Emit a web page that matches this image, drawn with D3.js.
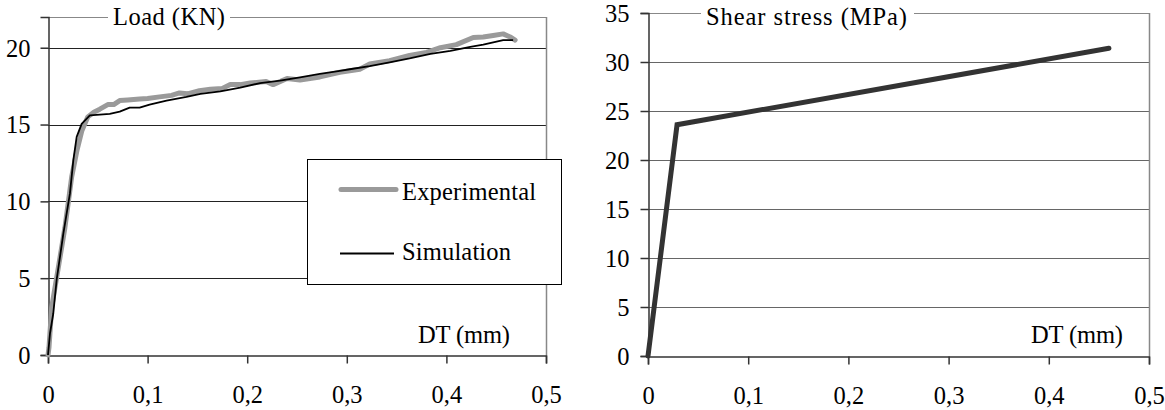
<!DOCTYPE html>
<html><head><meta charset="utf-8">
<script src="https://cdn.jsdelivr.net/npm/d3@7"></script>
<style>
html,body{margin:0;padding:0;background:#fff;}
svg{display:block;}
svg text{font-family:"Liberation Serif","Times New Roman",Times,"DejaVu Serif",serif !important;fill:#000;}
</style></head>
<body>
<svg id="c" width="1165" height="410"></svg>
<script>
// ---- data ----
const expX = [0,0.001,0.0037,0.0104,0.017,0.0238,0.029,0.034,0.040,0.046,0.052,0.060,0.066,0.072,0.080,0.092,0.100,0.112,0.124,0.132,0.140,0.152,0.163,0.175,0.183,0.193,0.203,0.219,0.226,0.240,0.253,0.273,0.293,0.313,0.323,0.343,0.363,0.380,0.394,0.410,0.427,0.437,0.447,0.457,0.464,0.469];
const expY = [0,0.5,3.1,5.7,8.3,11.6,13.3,14.6,15.5,15.8,16.0,16.3,16.3,16.56,16.6,16.66,16.7,16.8,16.9,17.06,17.0,17.2,17.3,17.35,17.6,17.6,17.7,17.8,17.6,18.0,17.9,18.1,18.4,18.6,18.94,19.16,19.5,19.7,20.0,20.2,20.67,20.7,20.8,20.9,20.7,20.5];
const simX = [0,0.002,0.0053,0.0087,0.0154,0.022,0.0254,0.0288,0.0338,0.042,0.052,0.062,0.072,0.082,0.092,0.102,0.119,0.139,0.153,0.173,0.193,0.213,0.233,0.253,0.273,0.293,0.303,0.323,0.343,0.363,0.384,0.404,0.424,0.437,0.457,0.467];
const simY = [0,1.4,2.7,4.9,7.9,10.5,12.66,14.2,15.04,15.6,15.65,15.7,15.84,16.1,16.1,16.3,16.56,16.8,17.0,17.16,17.4,17.7,17.86,18.07,18.3,18.5,18.6,18.8,19.05,19.3,19.6,19.8,20.06,20.2,20.5,20.5];
const shearX = [0,0.029,0.46];
const shearY = [0,23.6,31.4];
const xTicks = [0,0.1,0.2,0.3,0.4,0.5];
const xTickLabels = ["0","0,1","0,2","0,3","0,4","0,5"];
const leftYTicks = [0,5,10,15,20];
const rightYTicks = [0,5,10,15,20,25,30,35];
const seriesNames = ["Experimental","Simulation"];

const FONT = '"Liberation Serif","Times New Roman",Times,"DejaVu Serif",serif';
const svg = d3.select("#c");

function label(g,x,y,str,len){
  const t = g.append("text").attr("x",x).attr("y",y).style("font-size","24.5px").style("font-family",FONT).text(str);
  if(len) t.attr("textLength",len).attr("lengthAdjust","spacing");
  return t;
}

function panel(o){
  const g = svg.append("g").style("font-family",FONT);
  const x = d3.scaleLinear().domain([0,0.5]).range([o.x0,o.x1]);
  const y = d3.scaleLinear().domain([0,o.ymax]).range([o.y0,o.y1]);
  g.selectAll(".grid").data(o.yTicks.filter(d=>d>0 && d<o.ymax)).enter().append("line")
    .attr("x1",o.x0).attr("x2",o.x1).attr("y1",d=>Math.round(y(d))+0.5).attr("y2",d=>Math.round(y(d))+0.5)
    .attr("stroke",o.gridColor).attr("stroke-width",1);
  g.append("line").attr("x1",o.x1+0.5).attr("x2",o.x1+0.5).attr("y1",o.y1).attr("y2",o.y0)
    .attr("stroke","#888").attr("stroke-width",1.5);
  g.append("line").attr("x1",o.x0).attr("x2",o.tGap0).attr("y1",o.y1+0.5).attr("y2",o.y1+0.5).attr("stroke","#888").attr("stroke-width",1.2);
  g.append("line").attr("x1",o.tGap1).attr("x2",o.x1).attr("y1",o.y1+0.5).attr("y2",o.y1+0.5).attr("stroke","#888").attr("stroke-width",1.2);
  const ax = d3.axisBottom(x).tickValues(xTicks).tickFormat((d,i)=>xTickLabels[i]).tickSize(8).tickPadding(22);
  const xg = g.append("g").attr("transform",`translate(0,${o.y0+0.5})`).call(ax);
  const ay = d3.axisLeft(y).tickValues(o.yTicks).tickSize(8).tickPadding(o.yPad);
  const yg = g.append("g").attr("transform",`translate(${o.x0+0.5},0)`).call(ay);
  [xg,yg].forEach(a=>{
    a.attr("font-family",null).attr("font-size",null);
    a.select(".domain").attr("stroke","#333").attr("stroke-width",1.5);
    a.selectAll(".tick line").attr("stroke","#333").attr("stroke-width",1.5);
    a.selectAll("text").style("font-size","24.5px").style("font-family",FONT).attr("fill","#000");
  });
  xg.selectAll("text").attr("dy","0.71em");
  yg.selectAll("text").attr("dy","0.34em");
  label(g,o.tx,o.ty,o.title,o.tLen);
  label(g,o.dtx,343,"DT (mm)",92);
  return {g,x,y};
}

// ---- left chart ----
const L = panel({x0:48,x1:546,y0:355,y1:17,ymax:22,yTicks:leftYTicks,gridColor:"#222",
  tGap0:108,tGap1:230,tx:113,ty:25,title:"Load (KN)",tLen:112,dtx:418,yPad:10});
const expData = expX.map((v,i)=>[v,expY[i]]);
const simData = simX.map((v,i)=>[v,simY[i]]);
const lineL = d3.line().x(d=>L.x(d[0])).y(d=>L.y(d[1]));
L.g.append("path").attr("d",lineL(expData)).attr("fill","none").attr("stroke","#9a9a9a").attr("stroke-width",5).attr("stroke-linejoin","round").attr("stroke-linecap","round");
L.g.append("path").attr("d",lineL(simData)).attr("fill","none").attr("stroke","#000").attr("stroke-width",1.8).attr("stroke-linejoin","round");

const lg = L.g.append("g");
lg.append("rect").attr("x",307.5).attr("y",159.5).attr("width",254).attr("height",125).attr("fill","#fff").attr("stroke","#000").attr("stroke-width",1);
lg.append("line").attr("x1",341).attr("x2",396).attr("y1",189.5).attr("y2",189.5).attr("stroke","#9a9a9a").attr("stroke-width",5).attr("stroke-linecap","round");
lg.append("line").attr("x1",340).attr("x2",394).attr("y1",253.5).attr("y2",253.5).attr("stroke","#000").attr("stroke-width",1.8);
label(lg,402,200,seriesNames[0],134);
label(lg,402,260,seriesNames[1],109);

// ---- right chart ----
const R = panel({x0:648,x1:1149,y0:356,y1:13,ymax:35,yTicks:rightYTicks,gridColor:"#666",
  tGap0:701,tGap1:914,tx:706,ty:25,title:"Shear stress (MPa)",tLen:201,dtx:1031,yPad:11});
const shData = shearX.map((v,i)=>[v,shearY[i]]);
R.g.append("path").attr("d",d3.line().x(d=>R.x(d[0])).y(d=>R.y(d[1]))(shData))
  .attr("fill","none").attr("stroke","#333").attr("stroke-width",5).attr("stroke-linecap","round").attr("stroke-linejoin","miter");
</script>
</body></html>
